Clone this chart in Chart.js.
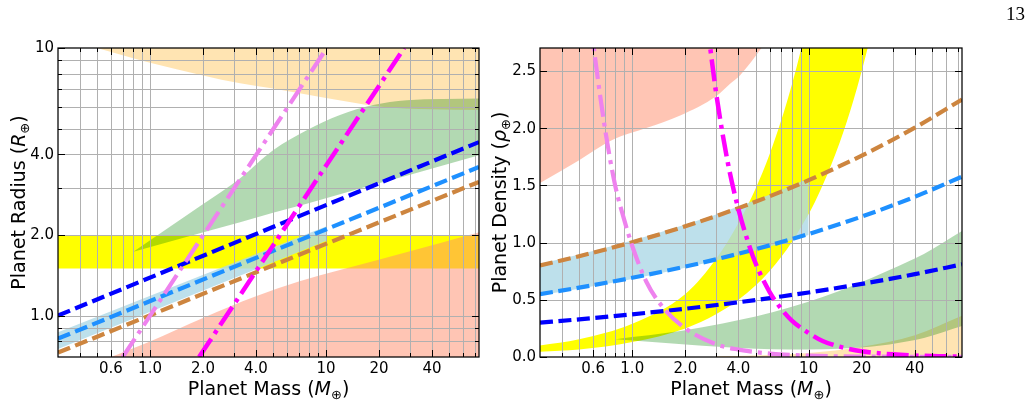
<!DOCTYPE html>
<html><head><meta charset="utf-8">
<script src="https://cdn.jsdelivr.net/npm/chart.js@4.4.0/dist/chart.umd.min.js"></script>
<style>
html,body{margin:0;padding:0;background:#fff;}
#wrap{position:relative;width:1031px;height:404px;background:#fff;}
canvas{position:absolute;left:0;top:0;}
</style></head><body>
<div id="wrap"><canvas id="c1" width="1031" height="404"></canvas><canvas id="c2" width="1031" height="404"></canvas></div>
<script>
// ---------- tick / grid values ----------
const massGrid = [0.4,0.5,0.6,0.7,0.8,0.9,1,2,3,4,5,6,7,8,9,10,20,30,40,50,60,70];
const massMajor = [0.6,1,2,4,10,20,40];
const massMajorLbl = ['0.6','1.0','2.0','4.0','10','20','40'];
const radGrid = [0.8,0.9,1,2,3,4,5,6,7,8,9];
const radMajor = [1,2,4,10];
const radMajorLbl = ['1.0','2.0','4.0','10'];
const denGrid = [0.5,1.0,1.5,2.0,2.5];
const denMajor = [0,0.5,1,1.5,2,2.5];
const denMajorLbl = ['0.0','0.5','1.0','1.5','2.0','2.5'];

// ---------- left panel: radius vs mass ----------
const lBlueM = [0.3, 74];   const lBlueR = [1.0, 4.45];
const lDodgerM = [0.3, 74]; const lDodgerR = [0.82, 3.59];
const lPeruM = [0.3, 74];   const lPeruR = [0.727, 3.16];
const lMagentaM = [1.9, 27.8]; const lMagentaR = [0.70, 10.0];
const lVioletM = [0.7, 10.1];  const lVioletR = [0.7, 10];
const lYellowM = [0.3, 74]; const lYellowLo = [1.5, 1.5]; const lYellowHi = [2.0, 2.0];
const lOrangeM = [0.3, 0.5, 1, 2, 3.25, 5, 10, 20, 40, 74];
const lOrangeLo = [11.0, 10.0, 8.8, 7.9, 7.38, 7.05, 6.5, 6.05, 5.9, 5.86];
const lGreenM = [0.804, 1.92, 3.25, 5.0, 7.77, 12.0, 18.5, 28.7, 74];
const lGreenLo = [1.73, 2.03, 2.23, 2.42, 2.62, 2.84, 3.08, 3.33, 3.97];
const lGreenHi = [1.73, 2.56, 3.26, 4.15, 4.93, 5.62, 6.12, 6.38, 6.48];
const lBandM = [0.3, 10]; const lBandLo = [0.75, 1.9]; const lBandHi = [0.866, 2.15];
const lSalmonM = [0.3, 0.6, 1, 2, 4, 7, 12, 30, 65, 74];
const lSalmonHi = [0.58, 0.70, 0.80, 0.98, 1.18, 1.34, 1.48, 1.74, 2.0, 2.05];

// ---------- right panel: density vs mass ----------
const rM = [0.3, 0.5, 1, 2, 4, 7, 10, 20, 40, 74];
const rBlue = [0.30, 0.329, 0.373, 0.422, 0.478, 0.529, 0.564, 0.639, 0.724, 0.81];
const rDodger = [0.55, 0.606, 0.692, 0.790, 0.902, 1.004, 1.075, 1.227, 1.400, 1.576];
const rPeru = [0.80, 0.881, 1.003, 1.142, 1.301, 1.445, 1.545, 1.760, 2.004, 2.25];
const rMagentaM = [2.65, 3, 3.5, 4, 4.5, 5, 6, 7, 8, 10, 12, 15, 20, 30, 50, 74];
const rMagenta = [2.93, 2.29, 1.68, 1.29, 1.02, 0.82, 0.57, 0.42, 0.32, 0.21, 0.14, 0.09, 0.05, 0.023, 0.008, 0.004];
const rVioletM = [0.58, 0.6, 0.7, 0.8, 0.9, 1.0, 1.2, 1.5, 2, 3, 4, 6, 10, 20, 74];
const rViolet = [2.95, 2.75, 2.0, 1.5, 1.2, 0.97, 0.66, 0.43, 0.25, 0.11, 0.065, 0.03, 0.012, 0.004, 0.001];
const rYellowM = [0.3, 0.5, 1, 2, 3, 4, 5, 6, 7, 8, 9.1, 10.5, 12, 15, 18, 21.6, 24];
const rYellowLo = [0.045, 0.065, 0.13, 0.25, 0.375, 0.5, 0.625, 0.75, 0.875, 1.0, 1.14, 1.31, 1.5, 1.875, 2.25, 2.7, 3.0];
const rYellowHi = [0.10, 0.155, 0.29, 0.55, 0.86, 1.17, 1.47, 1.77, 2.07, 2.37, 2.7, 3.1, 3.55, 4.44, 5.3, 6.4, 7.1];
const rOrangeM = [3, 5, 10, 20, 40, 74];
const rOrangeHi = [0.007, 0.014, 0.036, 0.09, 0.19, 0.36];
const rGreenM = [0.804, 1.92, 3.25, 5.0, 7.77, 12.0, 18.5, 28.7, 45, 74];
const rGreenHi = [0.156, 0.229, 0.293, 0.353, 0.432, 0.524, 0.633, 0.76, 0.90, 1.10];
const rGreenLo = [0.156, 0.112, 0.088, 0.072, 0.066, 0.068, 0.081, 0.11, 0.165, 0.27];
const rBandM = [0.3, 0.5, 1, 2, 4, 7, 10];
const rBandLo = [0.54, 0.596, 0.682, 0.78, 0.892, 0.994, 1.065];
const rBandHi = [0.815, 0.896, 1.018, 1.157, 1.316, 1.46, 1.56];
const rSalmonM = [0.3, 0.5, 0.78, 1.2, 1.87, 3, 3.6, 4.1, 5.4, 7, 10];
const rSalmonLo = [1.52, 1.72, 1.90, 2.0, 2.11, 2.28, 2.39, 2.465, 2.7, 2.95, 3.3];

// ---------- styles ----------
const C = {
  blue:'#0000ff', dodger:'#1e90ff', peru:'#cd853f', magenta:'#ff00ff', violet:'#ee82ee',
  yellow:'#ffff00', orange:'rgba(255,165,0,0.3)', green:'rgba(0,128,0,0.3)',
  band:'rgba(173,216,230,0.8)', salmon:'rgba(255,140,105,0.5)'
};
const DASH = [13, 5.5];
const DASHDOT = [22, 6, 4, 6];

function xy(xs, ys){ return xs.map((x,i)=>({x:x, y:ys[i]})); }
function lineDS(xs, ys, color, width, dash, order, smooth){
  return {data:xy(xs,ys), borderColor:color, borderWidth:width, borderDash:dash, borderCapStyle:'butt',
    pointRadius:0, fill:false, order:order, clip:0, tension:0,
    cubicInterpolationMode: smooth ? 'monotone' : 'default'};
}
function edgeDS(xs, ys, order, fill, bg){
  return {data:xy(xs,ys), borderColor:'rgba(0,0,0,0)', borderWidth:0, pointRadius:0,
    fill: fill===undefined ? false : fill, backgroundColor: bg || 'rgba(0,0,0,0)', order:order, clip:0,
    cubicInterpolationMode:'monotone'};
}

function richText(ctx, parts, cx, cy, rot){
  ctx.save(); ctx.translate(cx, cy); ctx.rotate(rot);
  let total = 0;
  parts.forEach(p => { ctx.font = p.f; p.w = ctx.measureText(p.t).width; total += p.w; });
  let x = -total/2;
  ctx.textBaseline = 'alphabetic'; ctx.textAlign = 'left'; ctx.fillStyle = '#000';
  parts.forEach(p => { ctx.font = p.f; ctx.fillText(p.t, x, p.dy || 0); x += p.w; });
  ctx.restore();
}
const TF = '19px "DejaVu Sans"', TI = 'italic 19px "DejaVu Sans"', TS = '13px "DejaVu Sans"';
const massTitle = [{t:'Planet Mass (',f:TF},{t:'M',f:TI},{t:'\u2295',f:TS,dy:4},{t:')',f:TF}];
const radTitle = [{t:'Planet Radius (',f:TF},{t:'R',f:TI},{t:'\u2295',f:TS,dy:4},{t:')',f:TF}];
const denTitle = [{t:'Planet Density (',f:TF},{t:'\u03c1',f:TI},{t:'\u2295',f:TS,dy:4},{t:')',f:TF}];

function deco(cfg){
  return {
    id: 'deco' + cfg.name,
    beforeDatasetsDraw(chart){
      const {ctx, chartArea:a, scales} = chart;
      ctx.save(); ctx.beginPath(); ctx.rect(a.left, a.top, a.right-a.left, a.bottom-a.top); ctx.clip();
      ctx.strokeStyle = '#b0b0b0'; ctx.lineWidth = 1; ctx.beginPath();
      cfg.xGrid.forEach(v => { const p = Math.round(scales.x.getPixelForValue(v)) + 0.5; ctx.moveTo(p, a.top); ctx.lineTo(p, a.bottom); });
      cfg.yGrid.forEach(v => { const p = Math.round(scales.y.getPixelForValue(v)) + 0.5; ctx.moveTo(a.left, p); ctx.lineTo(a.right, p); });
      ctx.stroke(); ctx.restore();
    },
    afterDraw(chart){
      const {ctx, chartArea:a, scales} = chart;
      ctx.save();
      ctx.strokeStyle = '#000'; ctx.lineWidth = 1; ctx.beginPath();
      const xs = new Set(cfg.xMajor);
      cfg.xGrid.concat(cfg.xMajor).forEach(v => {
        const L = xs.has(v) ? 7 : 4; const p = Math.round(scales.x.getPixelForValue(v)) + 0.5;
        ctx.moveTo(p, a.bottom); ctx.lineTo(p, a.bottom - L);
        ctx.moveTo(p, a.top); ctx.lineTo(p, a.top + L);
      });
      const ys = new Set(cfg.yMajor);
      cfg.yGrid.concat(cfg.yMajor).forEach(v => {
        const L = ys.has(v) ? 7 : 4; const p = Math.round(scales.y.getPixelForValue(v)) + 0.5;
        ctx.moveTo(a.left, p); ctx.lineTo(a.left + L, p);
        ctx.moveTo(a.right, p); ctx.lineTo(a.right - L, p);
      });
      ctx.stroke();
      ctx.lineWidth = 1.25; ctx.strokeRect(a.left, a.top, a.right-a.left, a.bottom-a.top);
      ctx.fillStyle = '#000'; ctx.font = '15px "DejaVu Sans"';
      ctx.textAlign = 'center'; ctx.textBaseline = 'alphabetic';
      cfg.xMajor.forEach((v,i) => ctx.fillText(cfg.xLbl[i], scales.x.getPixelForValue(v), 372.5));
      ctx.textAlign = 'right'; ctx.textBaseline = 'middle';
      cfg.yMajor.forEach((v,i) => ctx.fillText(cfg.yLbl[i], a.left - 4, scales.y.getPixelForValue(v) + 0.5));
      richText(ctx, cfg.xTitle, (a.left + a.right)/2, 395, 0);
      richText(ctx, cfg.yTitle, cfg.yTitleX, (a.top + a.bottom)/2, -Math.PI/2);
      if (cfg.page) {
        ctx.font = '19px "Liberation Serif"'; ctx.textAlign = 'right'; ctx.textBaseline = 'alphabetic';
        ctx.fillText(cfg.page, 1025, 20);
      }
      ctx.restore();
    }
  };
}

Chart.defaults.animation = false;

const leftDS = [
  edgeDS(lYellowM, lYellowLo, 20),
  edgeDS(lYellowM, lYellowHi, 20, 0, C.yellow),
  edgeDS(lOrangeM, lOrangeLo, 19, 'end', C.orange),
  edgeDS(lGreenM, lGreenLo, 18),
  edgeDS(lGreenM, lGreenHi, 18, 3, C.green),
  edgeDS(lBandM, lBandLo, 17),
  edgeDS(lBandM, lBandHi, 17, 5, C.band),
  edgeDS(lSalmonM, lSalmonHi, 16, 'start', C.salmon),
  lineDS(lBlueM, lBlueR, C.blue, 4.2, DASH, 5, false),
  lineDS(lDodgerM, lDodgerR, C.dodger, 4.2, DASH, 4, false),
  lineDS(lPeruM, lPeruR, C.peru, 4.2, DASH, 3, false),
  lineDS(lVioletM, lVioletR, C.violet, 4.2, DASHDOT, 1, false),
  lineDS(lMagentaM, lMagentaR, C.magenta, 4.5, DASHDOT, 0, false)
];
new Chart(document.getElementById('c1'), {
  type:'line',
  data:{datasets:leftDS},
  options:{
    responsive:false, animation:false, devicePixelRatio:1,
    layout:{padding:{left:58, right:1031-479, top:48, bottom:404-357}},
    scales:{
      x:{type:'logarithmic', min:0.3, max:74, display:false},
      y:{type:'logarithmic', min:0.7, max:10, display:false}
    },
    plugins:{legend:{display:false}, tooltip:{enabled:false}, filler:{drawTime:'beforeDatasetsDraw', propagate:false}}
  },
  plugins:[deco({name:'L', xGrid:massGrid, xMajor:massMajor, xLbl:massMajorLbl, yGrid:radGrid, yMajor:radMajor, yLbl:radMajorLbl,
    xTitle:massTitle, yTitle:radTitle, yTitleX:25})]
});

const rightDS = [
  edgeDS(rYellowM, rYellowLo, 20),
  edgeDS(rYellowM, rYellowHi, 20, 0, C.yellow),
  edgeDS(rOrangeM, rOrangeHi, 19, 'start', C.orange),
  edgeDS(rGreenM, rGreenLo, 18),
  edgeDS(rGreenM, rGreenHi, 18, 3, C.green),
  edgeDS(rBandM, rBandLo, 17),
  edgeDS(rBandM, rBandHi, 17, 5, C.band),
  edgeDS(rSalmonM, rSalmonLo, 16, 'end', C.salmon),
  lineDS(rM, rBlue, C.blue, 4.2, DASH, 5, true),
  lineDS(rM, rDodger, C.dodger, 4.2, DASH, 4, true),
  lineDS(rM, rPeru, C.peru, 4.2, DASH, 3, true),
  lineDS(rVioletM, rViolet, C.violet, 4.2, DASHDOT, 1, true),
  lineDS(rMagentaM, rMagenta, C.magenta, 4.5, DASHDOT, 0, true)
];
new Chart(document.getElementById('c2'), {
  type:'line',
  data:{datasets:rightDS},
  options:{
    responsive:false, animation:false, devicePixelRatio:1,
    layout:{padding:{left:540, right:1031-962, top:48, bottom:404-357}},
    scales:{
      x:{type:'logarithmic', min:0.3, max:74, display:false},
      y:{type:'linear', min:0, max:2.7, display:false}
    },
    plugins:{legend:{display:false}, tooltip:{enabled:false}, filler:{drawTime:'beforeDatasetsDraw', propagate:false}}
  },
  plugins:[deco({name:'R', xGrid:massGrid, xMajor:massMajor, xLbl:massMajorLbl, yGrid:denGrid, yMajor:denMajor, yLbl:denMajorLbl,
    xTitle:massTitle, yTitle:denTitle, yTitleX:506, page:'13'})]
});
</script></body></html>
